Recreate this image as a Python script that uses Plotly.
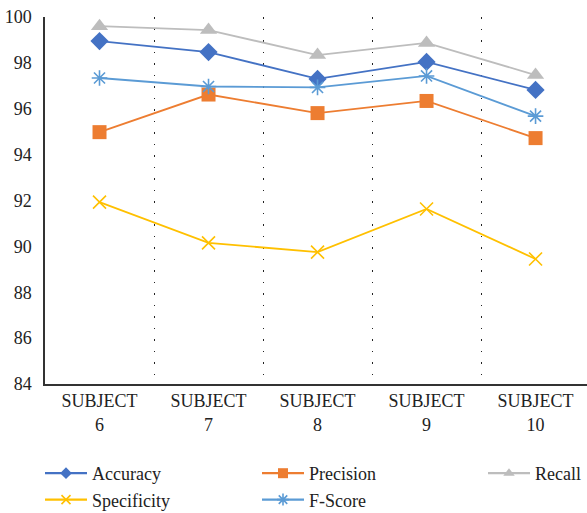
import plotly.graph_objects as go

subjects = ["SUBJECT<br>6", "SUBJECT<br>7", "SUBJECT<br>8", "SUBJECT<br>9", "SUBJECT<br>10"]
accuracy = [98.95, 98.47, 97.30, 98.04, 96.82]
precision = [94.98, 96.62, 95.81, 96.34, 94.72]
recall = [99.60, 99.43, 98.34, 98.87, 97.47]
specificity = [91.93, 90.15, 89.75, 91.63, 89.45]
fscore = [97.34, 96.97, 96.93, 97.43, 95.68]
y_ticks = [84, 86, 88, 90, 92, 94, 96, 98, 100]

x = list(range(len(subjects)))
FONT = "Liberation Serif"

# name, values, colour, marker symbol, plot marker size, legend marker size, open?, legend id
series = [
    ("Accuracy", accuracy, "#4472C4", "diamond", 14, 9, False, "legend"),
    ("Precision", precision, "#ED7D31", "square", 14, 10, False, "legend2"),
    ("Recall", recall, "#BDBDBD", "triangle-up", 15, 10, False, "legend3"),
    ("Specificity", specificity, "#FFC000", "x-thin-open", 13, 9, True, "legend"),
    ("F-Score", fscore, "#5B9BD5", "asterisk-open", 13, 10, True, "legend2"),
]


def marker(symbol, size, color, is_open):
    m = dict(symbol=symbol, size=size, color=color)
    if is_open:
        m["line"] = dict(color=color, width=1.6)
    return m


fig = go.Figure()
for name, vals, color, sym, size, lsize, is_open, leg in series:
    fig.add_trace(go.Scatter(
        x=x, y=vals, name=name, mode="lines+markers", showlegend=False,
        line=dict(color=color, width=1.8), marker=marker(sym, size, color, is_open),
    ))
# legend entries carry smaller markers than the plotted points
for name, vals, color, sym, size, lsize, is_open, leg in series:
    fig.add_trace(go.Scatter(
        x=[None], y=[None], name=name, mode="lines+markers", legend=leg,
        line=dict(color=color, width=2.2), marker=marker(sym, lsize, color, is_open),
    ))

legend_style = dict(
    orientation="v", yanchor="top", xanchor="left",
    xref="container", yref="container",
    font=dict(family=FONT, size=18, color="#222222"),
    bgcolor="rgba(0,0,0,0)", tracegroupgap=0, itemwidth=42,
)
leg_y = 1 - 455 / 513

fig.update_layout(
    width=587, height=513,
    margin=dict(l=45, r=0, t=17, b=129, autoexpand=False),
    paper_bgcolor="white", plot_bgcolor="white",
    font=dict(family=FONT, size=18, color="#222222"),
    xaxis=dict(
        range=[-0.5, 4.472],
        tickmode="array", tickvals=x, ticktext=subjects,
        showgrid=False, zeroline=False,
        showline=True, linecolor="#333333", linewidth=1.5,
        ticks="", tickfont=dict(family=FONT, size=18, color="#222222"),
        minor=dict(tick0=0.5, dtick=1, showgrid=True, gridcolor="#222222",
                   gridwidth=1, griddash="1.5px,10px", ticks=""),
    ),
    yaxis=dict(
        range=[84, 100],
        tickmode="array", tickvals=y_ticks,
        showgrid=False, zeroline=False,
        showline=True, linecolor="#333333", linewidth=1.5,
        ticks="", ticklabelstandoff=8,
        tickfont=dict(family=FONT, size=18, color="#222222"),
    ),
    legend=dict(x=40 / 587, y=leg_y, **legend_style),
    legend2=dict(x=257 / 587, y=leg_y, **legend_style),
    legend3=dict(x=483 / 587, y=leg_y, **legend_style),
)

fig.write_html("out.html")
